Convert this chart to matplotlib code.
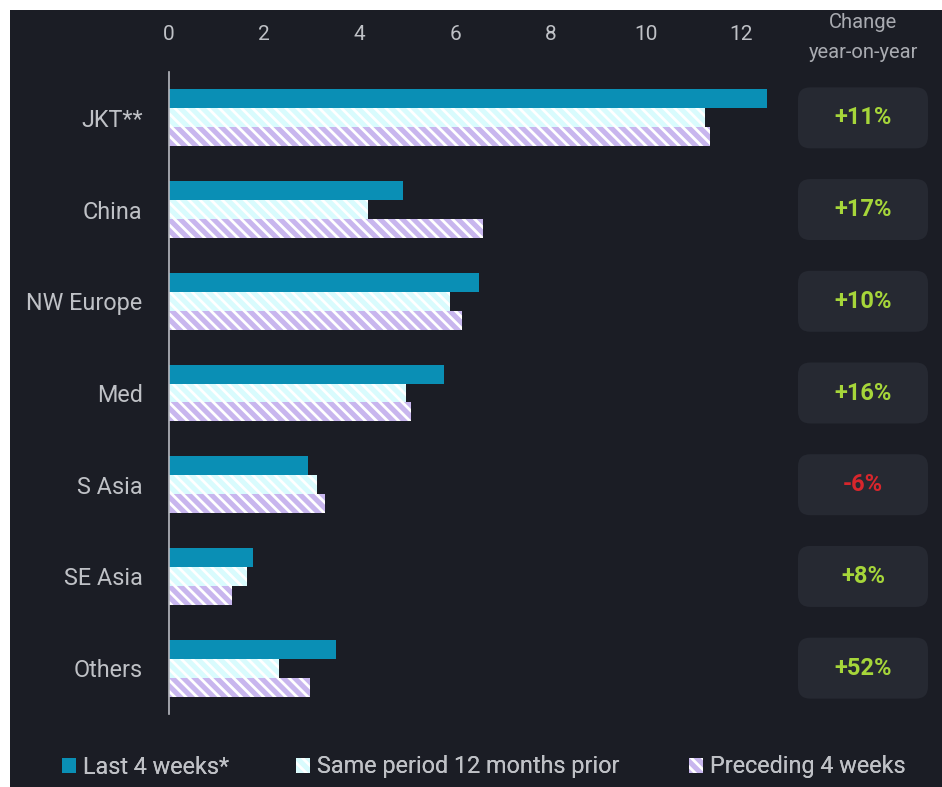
import matplotlib
matplotlib.use("Agg")
import matplotlib.pyplot as plt
from matplotlib.patches import Rectangle, FancyBboxPatch
import numpy as np

plt.rcParams['font.family'] = ['Roboto', 'DejaVu Sans']
plt.rcParams['hatch.linewidth'] = 2.0

# Data
regions = ["JKT**", "China", "NW Europe", "Med", "S Asia", "SE Asia", "Others"]
last_4_weeks = [12.55, 4.91, 6.50, 5.77, 2.92, 1.76, 3.50]
same_period_prior = [11.24, 4.17, 5.89, 4.97, 3.10, 1.64, 2.31]
preceding_4_weeks = [11.35, 6.59, 6.15, 5.08, 3.27, 1.32, 2.96]
yoy_change = ["+11%", "+17%", "+10%", "+16%", "-6%", "+8%", "+52%"]
xticks = [0, 2, 4, 6, 8, 10, 12]
series_labels = ["Last 4 weeks*", "Same period 12 months prior", "Preceding 4 weeks"]

BG = "#1b1d25"
BOX = "#262932"
TXT = "#bfc1c6"
C_LAST = "#0a8fb5"
C_SAME = "#d9fbfd"
C_PREC = "#c8b6ee"
GREEN = "#a6d63a"
RED = "#d7262c"

W, H = 942, 787
fig = plt.figure(figsize=(W / 100, H / 100), dpi=100)
fig.patch.set_facecolor("white")
fig.add_artist(Rectangle((10 / W, 0), 1 - 10 / W, 1 - 10 / H,
                         transform=fig.transFigure, facecolor=BG,
                         edgecolor="none", zorder=-10))

# Main axes: x = 0 at px 169, 47.67 px per unit
px_unit = 47.67
left_px, top_px, bottom_px = 169, 72, 714
xmax = 13
ax = fig.add_axes([left_px / W, 1 - bottom_px / H,
                   xmax * px_unit / W, (bottom_px - top_px) / H])
ax.set_facecolor("none")

y = np.arange(len(regions))
bh = 0.207
ax.barh(y - bh, last_4_weeks, height=bh, color=C_LAST, edgecolor="none",
        label=series_labels[0])
ax.barh(y, same_period_prior, height=bh, color=C_SAME, edgecolor="white",
        hatch="\\\\\\", linewidth=0, label=series_labels[1])
ax.barh(y + bh, preceding_4_weeks, height=bh, color=C_PREC, edgecolor="white",
        hatch="\\\\\\", linewidth=0, label=series_labels[2])

ax.set_xlim(0, xmax)
ax.set_ylim(len(regions) - 0.5, -0.5)
ax.set_xticks(xticks)
ax.set_xticklabels([str(t) for t in xticks])
ax.xaxis.tick_top()
ax.tick_params(axis="x", length=0, pad=20, labelsize=15, labelcolor=TXT)
ax.set_yticks(y)
ax.set_yticklabels(regions)
ax.tick_params(axis="y", length=0, pad=19, labelsize=16.8, labelcolor=TXT)
for s in ["top", "right", "bottom"]:
    ax.spines[s].set_visible(False)
ax.spines["left"].set_color("#b8bac0")
ax.spines["left"].set_linewidth(1.2)

# Year-on-year column
fig.canvas.draw()
to_fig = fig.transFigure.inverted()
fig.text(863 / W, 1 - 22 / H, "Change", ha="center", va="center",
         fontsize=14.5, color="#a9abb1")
fig.text(863 / W, 1 - 52 / H, "year-on-year", ha="center", va="center",
         fontsize=14.5, color="#a9abb1")
box_w, box_h = 130, 61
for i, lab in enumerate(yoy_change):
    yc = to_fig.transform(ax.transData.transform((0, i)))[1]
    x0 = 798 / W
    fig.add_artist(FancyBboxPatch((x0, yc - box_h / 2 / H), box_w / W, box_h / H,
                                  boxstyle="round,pad=0,rounding_size=0.013",
                                  transform=fig.transFigure, facecolor=BOX,
                                  edgecolor="none", mutation_aspect=W / H))
    fig.text(x0 + box_w / 2 / W, yc, lab, ha="center", va="center",
             fontsize=17, fontweight="bold",
             color=RED if lab.startswith("-") else GREEN)

# Legend entries
handles, labels = ax.get_legend_handles_labels()
legend_x = [62, 296, 689]
for h, l, lx in zip(handles, labels, legend_x):
    leg = fig.legend([h], [l], loc="center left",
                     bbox_to_anchor=(lx / W, 1 - 767 / H), frameon=False,
                     handlelength=0.6, handleheight=0.6, handletextpad=0.3,
                     fontsize=16.8, labelcolor=TXT, borderaxespad=0,
                     borderpad=0)
    fig.add_artist(leg)

fig.savefig("out.png", dpi=100, facecolor=fig.get_facecolor())
